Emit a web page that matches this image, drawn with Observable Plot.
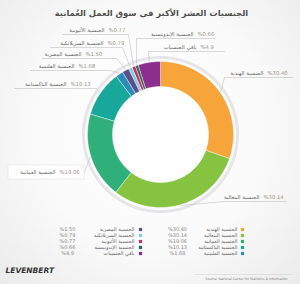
<!DOCTYPE html>
<html><head><meta charset="utf-8">
<script src="https://cdn.jsdelivr.net/npm/d3@7"></script>
<script src="https://cdn.jsdelivr.net/npm/@observablehq/plot@0.6"></script>
<style>
body{margin:0;width:300px;height:284px;overflow:hidden;background:radial-gradient(ellipse at 50% 45%, #ffffff 0%, #fafafa 55%, #ebebeb 100%);font-family:"DejaVu Sans",sans-serif}
#chart svg{display:block;background:transparent}
</style></head><body><div id="chart"></div>
<script>
// ---- data ----
const titleText = "الجنسيات العشر الأكبر في سوق العمل العُمانية";
const names = ["الجنسية الهندية","الجنسية البنغالية","الجنسية العمانية","الجنسية الباكستانية","الجنسية الفلبينية","الجنسية المصرية","الجنسية السريلانكية","الجنسية الأثيوبية","الجنسية الإندونيسية","باقي الجنسيات"];
const values = [30.40, 30.14, 19.06, 10.13, 1.68, 1.50, 0.79, 0.77, 0.66, 4.9];
const valueLabels = ["%30.40","%30.14","%19.06","%10.13","%1.68","%1.50","%0.79","%0.77","%0.66","%4.9"];
const colors = ["#f6a53b","#85c341","#2fb07b","#18a89b","#2a8db8","#5b4f8b","#7fd0de","#c23262","#2d6d57","#8c2e90"];
const sourceText = "Source: National Center for Statistics & Information";
const brandText = "LEVENBERT";

// ---- layout ----
const W = 300, H = 284;
const cx = 160, cy = 134, R = 73, R0 = 48;
const labelY   = [73, 197, 172, 84, 66, 54, 43, 30, 34, 47];
const labelMid = [263, 259, 55, 66, 74, 81, 103, 104, 193, 196];
const ulStart  = [224, 224, 8, 14, 30, 42, 50, 62, 136, 148];
const ulEnd    = [292, 286, 84, 96, 110, 116, 122, 128, 214, 224];
const attachRight = [false, false, true, true, true, true, true, true, false, false];
const legendRowY = [229, 235, 241, 247, 253];

const pie = d3.pie().sort(null).value(d => d)(values);

// slice polygons
const slicePts = [];
pie.forEach((p, i) => {
  const a0 = p.startAngle, a1 = p.endAngle;
  const n = Math.max(2, Math.ceil((a1 - a0) / (Math.PI / 180)));
  for (let k = 0; k <= n; k++) {
    const a = a0 + (a1 - a0) * k / n;
    slicePts.push({name: names[i], x: cx + R * Math.sin(a), y: cy - R * Math.cos(a)});
  }
  for (let k = n; k >= 0; k--) {
    const a = a0 + (a1 - a0) * k / n;
    slicePts.push({name: names[i], x: cx + R0 * Math.sin(a), y: cy - R0 * Math.cos(a)});
  }
});
// outer faint ring
const ring = d3.range(0, 361, 2).map(d => ({x: cx + (R + 4) * Math.sin(d * Math.PI / 180), y: cy - (R + 4) * Math.cos(d * Math.PI / 180)}));

// leader lines
const leaders = [];
pie.forEach((p, i) => {
  const a = (p.startAngle + p.endAngle) / 2;
  if (i === 2) {
    leaders.push({k: i, x: cx + (R + 1) * Math.sin(a), y: cy - (R + 1) * Math.cos(a)});
    leaders.push({k: i, x: ulEnd[i], y: labelY[i]});
    return;
  }
  const uy = labelY[i] + 4;
  const ax = attachRight[i] ? ulEnd[i] : ulStart[i];
  const ox = attachRight[i] ? ulStart[i] : ulEnd[i];
  leaders.push({k: i, x: cx + (R + 1) * Math.sin(a), y: cy - (R + 1) * Math.cos(a)});
  leaders.push({k: i, x: ax, y: uy});
  leaders.push({k: i, x: ox, y: uy});
});

const labels = names.map((n, i) => ({name: n, v: valueLabels[i], y: labelY[i], xm: labelMid[i]}));
const legend = names.map((n, i) => ({
  name: n, v: valueLabels[i],
  col: i < 5 ? 1 : 0,
  y: legendRowY[i % 5]
}));
const legSq = [140, 242], legName = [134, 237], legVal = [67, 177];

const chart = Plot.plot({
  width: W, height: H, margin: 0,
  x: {domain: [0, W], range: [0, W], axis: null},
  y: {domain: [0, H], range: [0, H], axis: null},
  color: {domain: names, range: colors},
  style: {background: "transparent", fontFamily: "DejaVu Sans"},
  marks: [
    Plot.text([titleText], {x: () => 151, y: () => 13, text: d => d, fontSize: 8.4, fontWeight: "bold", fill: "#505050"}),
    Plot.line(ring, {x: "x", y: "y", stroke: "#e6e6e9", strokeWidth: 3}),
    Plot.dot([0], {x: () => cx, y: () => cy, r: R0, fill: "white", stroke: "none"}),
    Plot.line(slicePts, {x: "x", y: "y", z: "name", fill: "name", stroke: "white", strokeWidth: 0.4, curve: "linear-closed"}),
    Plot.line(leaders, {x: "x", y: "y", z: "k", stroke: "#b5b5b5", strokeWidth: 0.5}),
    Plot.rect([0], {x1: () => ulStart[2], x2: () => ulEnd[2], y1: () => labelY[2] - 7, y2: () => labelY[2] + 7, fill: "white", stroke: "#e2e2e2", strokeWidth: 0.6}),
    Plot.text(labels, {x: "xm", y: "y", text: "name", textAnchor: "end", fontSize: 5.3, fill: "#666"}),
    Plot.text(labels, {x: d => d.xm + 4, y: "y", text: "v", textAnchor: "start", fontSize: 5.3, fill: "#a0968a"}),
    // legend
    Plot.dot(legend, {x: d => legSq[d.col], y: "y", symbol: "square", r: 1.8, fill: "name"}),
    Plot.text(legend, {x: d => legName[d.col], y: "y", text: "name", textAnchor: "end", fontSize: 5, fill: "#666"}),
    Plot.text(legend, {x: d => legVal[d.col], y: "y", text: "v", textAnchor: "middle", fontSize: 5, fill: "#888"}),
    // footer
    Plot.text([brandText], {x: () => 5, y: () => 270, text: d => d, textAnchor: "start", fontSize: 7.5, fontWeight: "bold", fontStyle: "italic", fill: "#333"}),
    Plot.ruleY([0], {y: () => 274, x1: () => 195, x2: () => 292, stroke: "#cfcfcf", strokeWidth: 0.5}),
    Plot.text([sourceText], {x: () => 287, y: () => 278, text: d => d, textAnchor: "end", fontSize: 3.2, fill: "#777"})
  ]
});
document.getElementById("chart").appendChild(chart);
</script></body></html>
